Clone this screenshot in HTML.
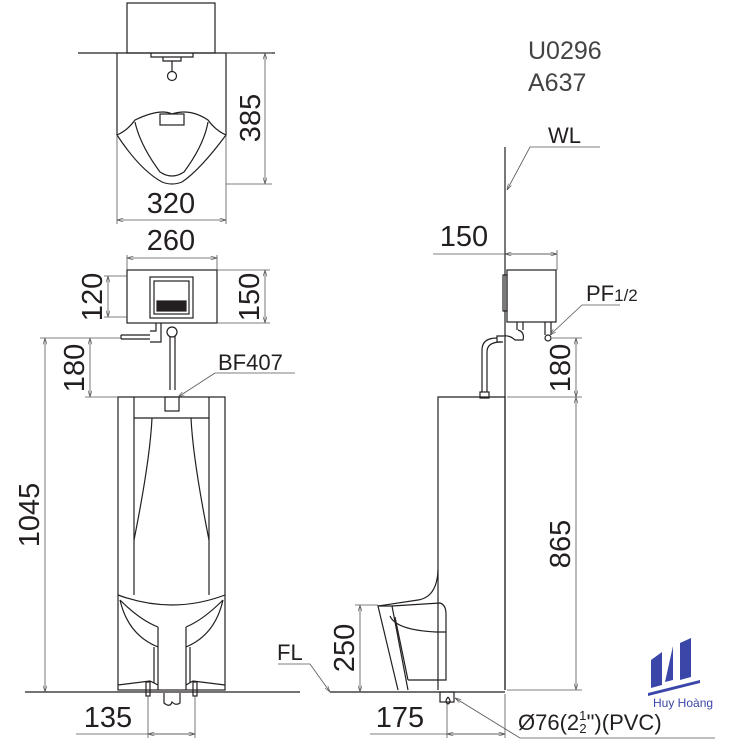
<!DOCTYPE html>
<html><head><style>
html,body{margin:0;padding:0;background:#fff;}
svg{display:block;}
text{font-family:"Liberation Sans",Arial,sans-serif;fill:#231f20;}
</style></head><body>
<svg width="740" height="740" viewBox="0 0 740 740" xmlns="http://www.w3.org/2000/svg">
<defs>
<marker id="a" viewBox="0 0 10 6" refX="10" refY="3" markerWidth="8" markerHeight="5" orient="auto-start-reverse"><path d="M0,0 L10,3 L0,6" fill="none" stroke="#555" stroke-width="1"/></marker>
</defs>
<g fill="none" stroke="#231f20" stroke-width="1.2">
<rect x="127" y="3" width="88" height="50"/>
<line x1="78" y1="53" x2="275" y2="53"/>
<line x1="117" y1="53" x2="117" y2="135"/>
<line x1="226" y1="53" x2="226" y2="135"/>
<path d="M151,53 L151,57 L193,57 L193,53"/>
<path d="M163,57 L163,61 L181,61 L181,57"/>
<line x1="172" y1="61" x2="172" y2="72"/>
<circle cx="172" cy="76" r="4.5"/>
<path d="M117,135 Q128,130 135,120 Q160,108 172,114 Q190,108 208,120 Q215,130 226,135 Q200,170 182,182 Q172,186 162,182 Q140,170 117,135 Z"/>
<path d="M135,122 Q140,145 160,172 Q172,180 184,172 Q204,145 208,122"/>
<rect x="160" y="114" width="24" height="11"/>
<rect x="127" y="270" width="90" height="53"/>
<rect x="150" y="277" width="43" height="41"/>
<rect x="154" y="281" width="35" height="33"/>
<rect x="157" y="301" width="29" height="10" fill="#231f20"/>
<path d="M121,335 L150,335 M121,339 L150,339 M121,335 L121,339"/>
<path d="M150,331 L156,331 L156,323 M150,342 L161,342 L161,323"/>
<circle cx="172" cy="332" r="5"/>
<path d="M170,336 L170,390 M175,336 L175,390"/>
<rect x="165" y="397" width="14" height="14"/>
<rect x="118" y="397" width="107" height="293"/>
<line x1="134" y1="397" x2="134" y2="595"/>
<line x1="209" y1="397" x2="209" y2="595"/>
<line x1="134" y1="418" x2="209" y2="418"/>
<path d="M152,418 Q150,460 134,540"/>
<path d="M191,418 Q193,460 209,540"/>
<path d="M118,595 Q172,615 225,595"/>
<path d="M120,600 Q128,635 158,647 L158,670 M158,627 L158,690 M120,600 Q140,620 158,627"/>
<path d="M223,600 Q215,635 186,647 L186,670 M186,627 L186,690 M223,600 Q203,620 186,627"/>
<path d="M154,647 L154,683 M190,647 L190,683"/>
<path d="M118,685 L150,681 L158,685 M225,685 L193,681 L186,685"/>
<rect x="146" y="682" width="4" height="14"/>
<rect x="193" y="682" width="4" height="14"/>
<path d="M164,693 L164,703 Q170,708 172,702 Q176,706 180,703 L180,693"/>
<line x1="25" y1="692" x2="300" y2="692"/>
<line x1="505" y1="147" x2="505" y2="690"/>
<rect x="507" y="270" width="49" height="52"/>
<rect x="503" y="275" width="4" height="36"/>
<path d="M517,322 L517,330 M523,322 L523,330 M545,322 L545,335 M551,322 L551,335"/>
<path d="M518,330 Q525,332 523,340 L515,340 Q510,335 503,336 L497,336 L497,342 L503,342"/>
<circle cx="548" cy="338" r="3"/>
<path d="M497,338 Q482,338 482,350 L482,392 M501,342 Q487,342 487,352 L487,392"/>
<rect x="480" y="392" width="9" height="6"/>
<path d="M438,690 L438,397 L505,397 L505,690"/>
<path d="M438,570 Q437,597 418,600 L378,606 L398,690"/>
<path d="M378,606 L392,606 L408,690"/>
<path d="M392,606 L440,603 Q446,605 446,614 L446,680 L408,680"/>
<path d="M390,616 Q396,630 436,632 L446,632"/>
<path d="M395,617 L408,680"/>
<line x1="330" y1="692" x2="505" y2="692"/>
<rect x="440" y="692" width="14" height="10"/>
<path d="M448,697 Q444,702 448,704 Q452,702 448,697"/>
</g>
<g fill="none" stroke="#555" stroke-width="0.8">
<line x1="226" y1="53" x2="272" y2="53"/><line x1="226" y1="184" x2="272" y2="184"/>
<line x1="265" y1="53" x2="265" y2="184" marker-start="url(#a)" marker-end="url(#a)"/>
<line x1="117" y1="135" x2="117" y2="224"/><line x1="226" y1="135" x2="226" y2="224"/>
<line x1="117" y1="220" x2="226" y2="220" marker-start="url(#a)" marker-end="url(#a)"/>
<line x1="127" y1="255" x2="127" y2="270"/><line x1="217" y1="255" x2="217" y2="270"/>
<line x1="127" y1="258" x2="217" y2="258" marker-start="url(#a)" marker-end="url(#a)"/>
<line x1="104" y1="276" x2="127" y2="276"/><line x1="104" y1="317" x2="127" y2="317"/>
<line x1="108" y1="276" x2="108" y2="317" marker-start="url(#a)" marker-end="url(#a)"/>
<line x1="217" y1="270" x2="270" y2="270"/><line x1="217" y1="323" x2="270" y2="323"/>
<line x1="265" y1="270" x2="265" y2="323" marker-start="url(#a)" marker-end="url(#a)"/>
<line x1="40" y1="338" x2="121" y2="338"/><line x1="85" y1="397" x2="118" y2="397"/>
<line x1="45" y1="338" x2="45" y2="692" marker-start="url(#a)" marker-end="url(#a)"/>
<line x1="90" y1="338" x2="90" y2="397" marker-start="url(#a)" marker-end="url(#a)"/>
<line x1="148" y1="696" x2="148" y2="738"/><line x1="195" y1="696" x2="195" y2="738"/>
<line x1="76" y1="734" x2="195" y2="734"/>
<line x1="148" y1="734" x2="195" y2="734" marker-start="url(#a)" marker-end="url(#a)"/>
<path d="M215,373 L295,373 M215,373 L178,397" marker-end="url(#a)"/>
<path d="M600,147 L530,147 L507,190" marker-end="url(#a)"/>
<line x1="433" y1="254" x2="557" y2="254"/>
<line x1="505" y1="254" x2="557" y2="254" marker-start="url(#a)" marker-end="url(#a)"/>
<line x1="557" y1="250" x2="557" y2="270"/>
<path d="M620,305 L582,305 L550,335" marker-end="url(#a)"/>
<line x1="552" y1="338" x2="582" y2="338"/><line x1="507" y1="397" x2="582" y2="397"/>
<line x1="507" y1="690" x2="582" y2="690"/>
<line x1="576" y1="338" x2="576" y2="397" marker-start="url(#a)" marker-end="url(#a)"/>
<line x1="576" y1="397" x2="576" y2="690" marker-start="url(#a)" marker-end="url(#a)"/>
<line x1="355" y1="605" x2="378" y2="605"/>
<line x1="360" y1="605" x2="360" y2="692" marker-start="url(#a)" marker-end="url(#a)"/>
<path d="M278,664 L310,664 L330,692" marker-end="url(#a)"/>
<line x1="447" y1="704" x2="447" y2="738"/><line x1="505" y1="694" x2="505" y2="738"/>
<line x1="370" y1="734" x2="505" y2="734"/>
<line x1="447" y1="734" x2="505" y2="734" marker-start="url(#a)" marker-end="url(#a)"/>
<path d="M715,738 L520,738 L455,698" marker-end="url(#a)"/>
</g>
<g font-size="29">
<text transform="translate(260 118) rotate(-90)" text-anchor="middle">385</text>
<text x="171" y="213" text-anchor="middle">320</text>
<text x="171" y="250" text-anchor="middle">260</text>
<text transform="translate(102 297) rotate(-90)" text-anchor="middle">120</text>
<text transform="translate(259 297) rotate(-90)" text-anchor="middle">150</text>
<text transform="translate(84 368) rotate(-90)" text-anchor="middle">180</text>
<text transform="translate(39 515) rotate(-90)" text-anchor="middle">1045</text>
<text x="108" y="727" text-anchor="middle">135</text>
<text x="464" y="246" text-anchor="middle">150</text>
<text transform="translate(570 368) rotate(-90)" text-anchor="middle">180</text>
<text transform="translate(570 544) rotate(-90)" text-anchor="middle">865</text>
<text transform="translate(354 648) rotate(-90)" text-anchor="middle">250</text>
<text x="400" y="727" text-anchor="middle">175</text>
</g>
<g font-size="22">
<text x="218" y="370">BF407</text>
<text x="548" y="143">WL</text>
<text x="586" y="301">PF<tspan font-size="17">1/2</tspan></text>
<text x="277" y="660">FL</text>
<text x="518" y="730">Ø76(2<tspan font-size="13" dy="-10">1</tspan><tspan font-size="13" dx="-7" dy="13">2</tspan><tspan dy="-3">")(PVC)</tspan></text>
</g>
<g font-size="25" fill="#444">
<text x="528" y="59" style="fill:#444">U0296</text>
<text x="528" y="91" style="fill:#444">A637</text>
</g>
<g fill="#3b47a8">
<polygon points="651,660 662,652 662,685 651,688"/>
<polygon points="673,646 673,680 665,682"/>
<polygon points="680,643 691,638 691,677 680,680"/>
<polygon points="648,693 700,680 700,683 648,696"/>
<text x="653" y="707" font-size="12" style="fill:#3b47a8">Huy Hoàng</text>
</g>
</svg>
</body></html>
